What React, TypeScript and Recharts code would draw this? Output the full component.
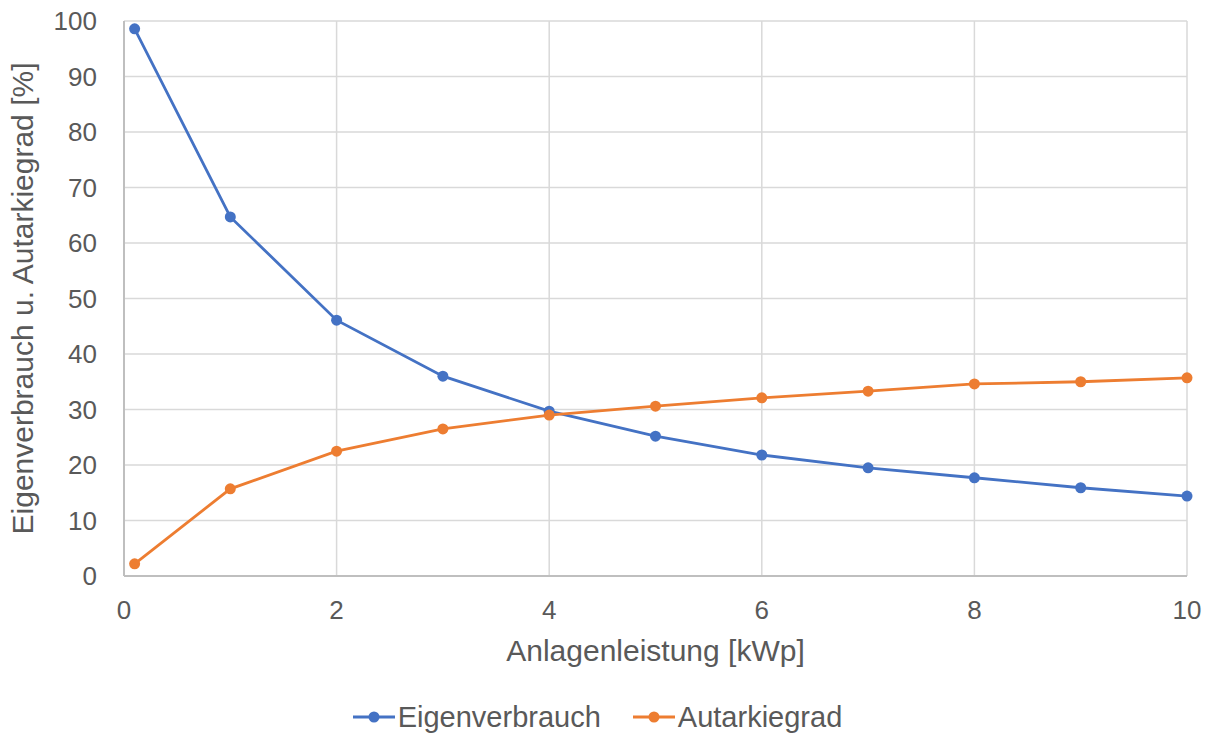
import React from 'react';
import { LineChart, Line, XAxis, YAxis, CartesianGrid, Legend, Label } from 'recharts';

const xValues = [0.1, 1, 2, 3, 4, 5, 6, 7, 8, 9, 10];
const eigenverbrauch = [98.6, 64.7, 46.1, 36.0, 29.7, 25.2, 21.8, 19.5, 17.7, 15.9, 14.4];
const autarkiegrad = [2.2, 15.7, 22.5, 26.5, 29.0, 30.6, 32.1, 33.3, 34.6, 35.0, 35.7];
const xTicks = [0, 2, 4, 6, 8, 10];
const yTicks = [0, 10, 20, 30, 40, 50, 60, 70, 80, 90, 100];

const BLUE = '#4472C4';
const ORANGE = '#ED7D31';
const TEXT = '#595959';
const FONT = '"Liberation Sans", Arial, sans-serif';

const data = xValues.map((x, i) => ({ x, e: eigenverbrauch[i], a: autarkiegrad[i] }));

const series = [
  { key: 'e', name: 'Eigenverbrauch', color: BLUE },
  { key: 'a', name: 'Autarkiegrad', color: ORANGE },
];

const LegendContent = () => (
  <div style={{ display: 'flex', justifyContent: 'center', alignItems: 'center', fontFamily: FONT, fontSize: 29, color: TEXT, paddingTop: 14, paddingLeft: 8 }}>
    {series.map((s, i) => (
      <div key={s.key} style={{ display: 'flex', alignItems: 'center', marginLeft: i ? 32 : 0 }}>
        <svg width={42} height={14} style={{ marginRight: 3 }}>
          <line x1={0} y1={7} x2={42} y2={7} stroke={s.color} strokeWidth={3} />
          <circle cx={21} cy={7} r={5.5} fill={s.color} />
        </svg>
        <span style={{ lineHeight: '34px' }}>{s.name}</span>
      </div>
    ))}
  </div>
);

export default function App() {
  return (
    <div style={{ position: 'absolute', left: 0, top: 0 }}>
      <LineChart width={1206} height={734} data={data} margin={{ top: 21, right: 19, left: 0, bottom: 0 }}>
        <CartesianGrid stroke="#d9d9d9" strokeWidth={1.5} />
        <XAxis
          dataKey="x"
          type="number"
          domain={[0, 10]}
          ticks={xTicks}
          height={110}
          tickLine={false}
          tickSize={0}
          tickMargin={25}
          axisLine={{ stroke: '#bfbfbf', strokeWidth: 2 }}
          tick={{ fill: TEXT, fontSize: 26, fontFamily: FONT }}
        >
          <Label value="Anlagenleistung [kWp]" position="insideBottom" offset={25} fill={TEXT} fontSize={30} fontFamily={FONT} />
        </XAxis>
        <YAxis
          type="number"
          domain={[0, 100]}
          ticks={yTicks}
          width={124}
          tickLine={false}
          tickSize={0}
          tickMargin={27}
          axisLine={{ stroke: '#bfbfbf', strokeWidth: 2 }}
          tick={{ fill: TEXT, fontSize: 26, fontFamily: FONT }}
          interval={0}
        >
          <Label value="Eigenverbrauch u. Autarkiegrad [%]" angle={-90} position="insideLeft" offset={22} style={{ textAnchor: 'middle' }} fill={TEXT} fontSize={30} fontFamily={FONT} />
        </YAxis>
        <Legend verticalAlign="bottom" height={48} content={<LegendContent />} />
        {series.map((s) => (
          <Line
            key={s.key}
            dataKey={s.key}
            name={s.name}
            stroke={s.color}
            strokeWidth={2.8}
            dot={{ r: 5.5, fill: s.color, stroke: s.color, strokeWidth: 0 }}
            activeDot={false}
            isAnimationActive={false}
          />
        ))}
      </LineChart>
    </div>
  );
}
